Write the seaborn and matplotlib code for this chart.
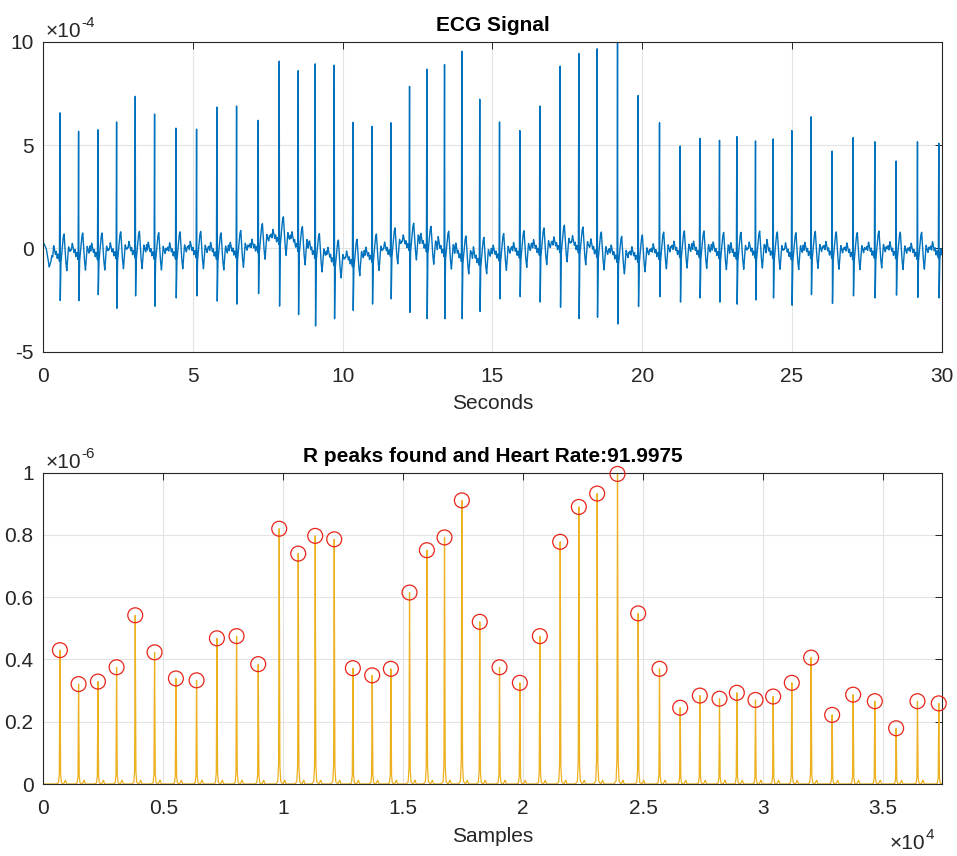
import numpy as np
import pandas as pd
import matplotlib
matplotlib.use('Agg')
import matplotlib.pyplot as plt
import seaborn as sns
from matplotlib.ticker import FuncFormatter, MultipleLocator

sns.set_style('white')
plt.rcParams['font.family'] = ['Liberation Sans', 'DejaVu Sans']
plt.rcParams['axes.unicode_minus'] = False

fs = 1248
n_samples = 37440

# R peak positions (samples)
peak_samples = [694, 1472, 2278, 3056, 3833, 4639, 5528, 6389, 7236, 8056,
                8958, 9833, 10625, 11333, 12125, 12903, 13708, 14486, 15264, 15986,
                16722, 17444, 18190, 19014, 19861, 20694, 21542, 22319, 23083, 23931,
                24792, 25681, 26542, 27361, 28181, 28903, 29681, 30417, 31194, 31999,
                32875, 33750, 34653, 35542, 36431, 37319]
# peak heights in the lower plot (x1e-6)
peak_energy = [0.430, 0.321, 0.329, 0.375, 0.542, 0.423, 0.339, 0.333, 0.468, 0.475,
               0.385, 0.820, 0.740, 0.797, 0.786, 0.372, 0.349, 0.370, 0.615, 0.751,
               0.792, 0.911, 0.521, 0.375, 0.325, 0.475, 0.778, 0.890, 0.933, 0.996,
               0.548, 0.370, 0.245, 0.284, 0.274, 0.293, 0.270, 0.281, 0.325, 0.406,
               0.222, 0.287, 0.266, 0.179, 0.266, 0.259]
# R and S amplitudes of the ECG (x1e-4)
r_amp = [6.56, 5.67, 5.74, 6.12, 7.36, 6.50, 5.82, 5.77, 6.84, 6.89,
         6.20, 9.06, 8.60, 8.93, 8.87, 6.10, 5.91, 6.08, 7.84, 8.67,
         8.90, 9.54, 7.22, 6.12, 5.70, 6.89, 8.82, 9.43, 9.66, 9.98,
         7.40, 6.08, 4.95, 5.33, 5.23, 5.41, 5.20, 5.30, 5.70, 6.37,
         4.71, 5.36, 5.16, 4.23, 5.16, 5.09]
s_amp = [-2.53, -2.53, -2.24, -2.90, -2.30, -2.80, -2.40, -2.30, -2.55, -2.70,
         -2.20, -2.80, -3.20, -3.75, -3.40, -3.00, -2.70, -2.45, -3.10, -3.40,
         -3.40, -3.40, -3.06, -2.45, -2.34, -2.60, -2.85, -3.40, -3.33, -3.66,
         -2.82, -2.34, -2.60, -2.40, -2.60, -2.70, -2.50, -2.40, -2.75, -2.24,
         -2.66, -2.30, -2.40, -2.26, -2.37, -2.40]

# baseline wander of the ECG (seconds, x1e-4)
base_t = [0, 0.1, 0.2, 0.35, 1, 2, 3, 4, 5, 6, 7, 7.5, 8, 8.5, 9, 9.5, 10, 10.5,
          11, 11.5, 12, 12.5, 13, 13.5, 14, 14.5, 15, 16, 17, 17.5, 18, 18.5, 19,
          19.5, 20, 21, 22, 23, 24, 25, 26, 27, 28, 29, 29.97, 30.0]
base_v = [0.3, 0.0, -0.9, -0.2, -0.1, -0.1, 0.0, -0.1, 0.0, -0.1, 0.1, 0.5, 0.7,
          0.3, 0.0, -0.3, -0.5, -0.4, -0.2, 0.0, 0.3, 0.4, 0.2, 0.0, -0.2, -0.4,
          -0.2, 0.0, 0.2, 0.3, 0.2, 0.0, -0.2, -0.3, -0.2, 0.0, 0.0, -0.1, 0.0,
          -0.1, 0.0, -0.1, 0.0, -0.1, 0.0, -0.8]

# shape of one beat around the R peak (seconds, x1e-4); None = R / S slots
wave_t = [-0.30, -0.27, -0.24, -0.21, -0.18, -0.15, -0.12, -0.09, -0.06, -0.035,
          -0.015, 0.0, 0.012, 0.03, 0.05, 0.08, 0.11, 0.14, 0.17, 0.20, 0.23,
          0.26, 0.29, 0.32, 0.35, 0.38, 0.41]
wave_v = [0.0, 0.15, -0.05, 0.35, 0.15, -0.1, 0.05, -0.3, -0.1, -0.2,
          -0.45, None, None, -0.6, -0.3, 0.2, 0.7, 0.85, 0.1, -0.55, -0.95,
          -0.3, 0.2, 0.0, -0.15, 0.1, 0.0]

# shape of one spike in the lower plot (samples, fraction of peak)
spike_n = [-150, -60, -25, 0, 25, 60, 150, 230, 280, 340]
spike_f = [0.0, 0.01, 0.08, 1.0, 0.08, 0.01, 0.0, 0.0, 0.0, 0.0]
spike_bump = [0.0, 0.0, 0.0, 0.0, 0.0, 0.0, 0.0, 0.012, 0.0, 0.0]

n = np.arange(n_samples)
t = n / fs
ecg = np.interp(t, base_t, base_v)
energy = np.zeros(n_samples)
for ps, rv, sv, pe in zip(peak_samples, r_amp, s_amp, peak_energy):
    tp = ps / fs
    b = np.interp(tp, base_t, base_v)
    vals = list(wave_v)
    vals[11] = rv - b
    vals[12] = sv - b
    win = (t >= tp + wave_t[0]) & (t <= tp + wave_t[-1])
    ecg[win] += np.interp(t[win] - tp, wave_t, vals)
    win2 = (n >= ps + spike_n[0]) & (n <= ps + spike_n[-1])
    shape = [f * pe + bb for f, bb in zip(spike_f, spike_bump)]
    energy[win2] += np.interp(n[win2] - ps, spike_n, shape)

df_ecg = pd.DataFrame({'Seconds': t, 'ECG': ecg * 1e-4})
df_en = pd.DataFrame({'Samples': n, 'Energy': energy * 1e-6})
df_pk = pd.DataFrame({'Samples': peak_samples, 'Energy': np.array(peak_energy) * 1e-6})

fig = plt.figure(figsize=(9.57, 8.56), dpi=100)
ax1 = fig.add_axes([0.0452, 0.5891, 0.9388, 0.3621])
ax2 = fig.add_axes([0.0452, 0.0841, 0.9388, 0.3637])

sns.lineplot(data=df_ecg, x='Seconds', y='ECG', ax=ax1, color='#0072BD',
             linewidth=1.0, estimator=None, sort=False)
sns.lineplot(data=df_en, x='Samples', y='Energy', ax=ax2, color='#EDB120',
             linewidth=0.9, estimator=None, sort=False)
sns.scatterplot(data=df_pk, x='Samples', y='Energy', ax=ax2, marker='o', s=115,
                facecolor='none', edgecolor='#E8241A', linewidth=0.9, zorder=5,
                clip_on=False)


def power_label(ax, x, y, base, exp, ha, va):
    # MATLAB-style exponent label: "×10" with a raised exponent
    t1 = ax.text(x, y, '×10', transform=ax.transAxes, fontsize=15,
                 ha=ha, va=va, color='#262626')
    ax.annotate(exp, xy=(1.0, 0.55), xycoords=t1, fontsize=11,
                ha='left', va='bottom', color='#262626')
    return t1


ax1.set_xlim(0, 30)
ax1.set_ylim(-5e-4, 10e-4)
ax1.xaxis.set_major_locator(MultipleLocator(5))
ax1.yaxis.set_major_locator(MultipleLocator(5e-4))
ax1.yaxis.set_major_formatter(FuncFormatter(lambda v, p: f'{v / 1e-4:g}'))
ax1.set_title('ECG Signal', fontsize=15, fontweight='bold', pad=8, color='black')
ax1.set_xlabel('Seconds', fontsize=15, labelpad=6)
ax1.set_ylabel('')
power_label(ax1, 0.003, 1.003, '10', '-4', 'left', 'bottom')

ax2.set_xlim(0, n_samples)
ax2.set_ylim(0, 1e-6)
ax2.xaxis.set_major_locator(MultipleLocator(5000))
ax2.yaxis.set_major_locator(MultipleLocator(0.2e-6))
ax2.xaxis.set_major_formatter(FuncFormatter(lambda v, p: f'{v / 1e4:g}'))
ax2.yaxis.set_major_formatter(FuncFormatter(lambda v, p: f'{round(v / 1e-6, 6):g}'))
ax2.set_title('R peaks found and Heart Rate:91.9975', fontsize=15,
              fontweight='bold', pad=8, color='black')
ax2.set_xlabel('Samples', fontsize=15, labelpad=6)
ax2.set_ylabel('')
power_label(ax2, 0.003, 1.003, '10', '-6', 'left', 'bottom')
power_label(ax2, 0.982, -0.16, '10', '4', 'right', 'top')

for ax in (ax1, ax2):
    ax.grid(True, color='#e3e3e3', linewidth=0.8)
    ax.set_axisbelow(True)
    ax.tick_params(direction='in', length=5, width=0.7, top=True, right=True,
                   labelsize=15, colors='#262626')
    ax.tick_params(axis='x', pad=11)
    ax.tick_params(axis='y', pad=7)
    for sp in ax.spines.values():
        sp.set_color('#262626')
        sp.set_linewidth(0.8)

fig.savefig('out.png', dpi=100, facecolor='white')
